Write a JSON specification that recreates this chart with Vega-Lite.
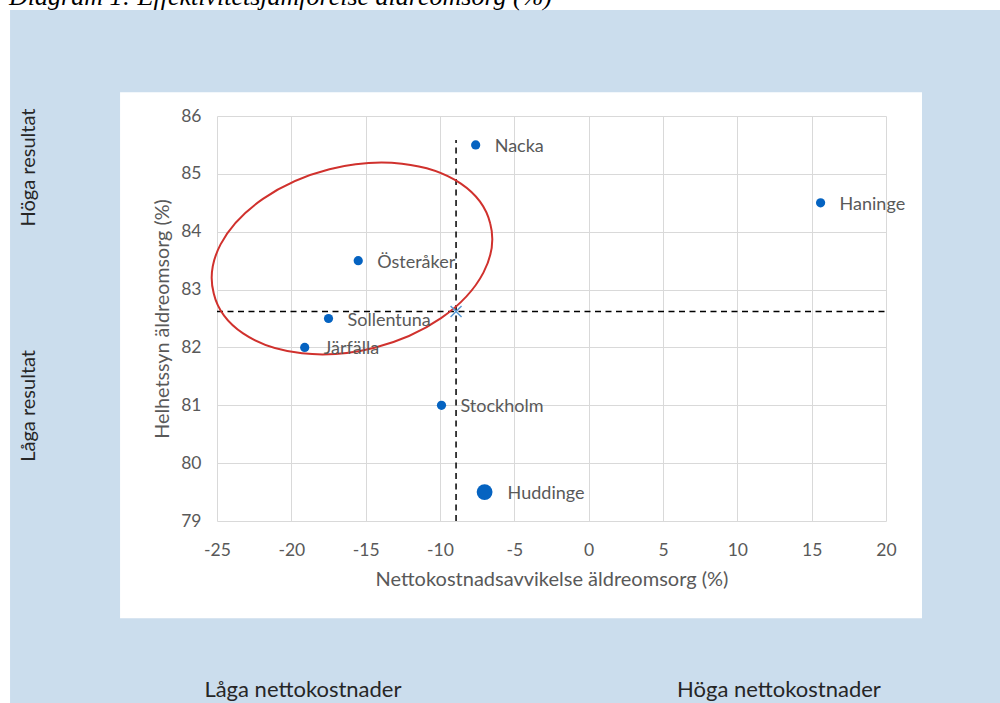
{
  "$schema": "https://vega.github.io/schema/vega-lite/v6.json",
  "width": 669,
  "height": 405,
  "autosize": {"type": "none"},
  "padding": {"left": 217, "top": 116, "right": 114, "bottom": 182},
  "background": "white",
  "config": {"view": {"stroke": null}, "font": "Lato"},
  "datasets": {
    "bands": [
      {"x": -38.92, "x2": -31.52, "y": 75.8, "y2": 87.83},
      {"x": 22.42, "x2": 28, "y": 75.8, "y2": 87.83},
      {"x": -31.6, "x2": 22.5, "y": 86.41, "y2": 87.83},
      {"x": -31.6, "x2": 22.5, "y": 75.8, "y2": 77.32}
    ],
    "title": [{"x": -38.99, "y": 87.92, "label": "Diagram 1: Effektivitetsjämförelse äldreomsorg (%)"}],
    "notesV": [
      {"x": -37.65, "y": 85.11, "label": "Höga resultat"},
      {"x": -37.65, "y": 80.99, "label": "Låga resultat"}
    ],
    "notesH": [
      {"x": -19.22, "y": 76.08, "label": "Låga nettokostnader"},
      {"x": 12.8, "y": 76.08, "label": "Höga nettokostnader"}
    ],
    "avg": [{"x": -8.92, "y": 82.62}],
    "ellipse": [{"x": -15.92, "y": 83.537}],
    "points": [
      {"kommun": "Nacka", "x": -7.6, "y": 85.5, "grupp": "jämförelse"},
      {"kommun": "Haninge", "x": 15.6, "y": 84.5, "grupp": "jämförelse"},
      {"kommun": "Österåker", "x": -15.5, "y": 83.5, "grupp": "jämförelse"},
      {"kommun": "Sollentuna", "x": -17.5, "y": 82.5, "grupp": "jämförelse"},
      {"kommun": "Järfälla", "x": -19.1, "y": 82.0, "grupp": "jämförelse"},
      {"kommun": "Stockholm", "x": -9.9, "y": 81.0, "grupp": "jämförelse"},
      {"kommun": "Huddinge", "x": -7.0, "y": 79.5, "grupp": "egen"}
    ]
  },
  "encoding": {
    "x": {
      "field": "x", "type": "quantitative",
      "scale": {"domain": [-25, 20], "nice": false, "zero": false},
      "axis": {
        "title": "Nettokostnadsavvikelse äldreomsorg (%)",
        "values": [-25, -20, -15, -10, -5, 0, 5, 10, 15, 20],
        "labelExpr": "replace(datum.label, '−', '-')",
        "grid": true, "gridColor": "#d9d9d9", "gridWidth": 1,
        "domain": false, "ticks": false, "tickSize": 0,
        "labelPadding": 20, "labelFontSize": 17.5, "labelColor": "#595959",
        "labelFlush": false, "labelOverlap": false,
        "titleFontSize": 20, "titleColor": "#595959", "titleFontWeight": "normal", "titlePadding": 11
      }
    },
    "y": {
      "field": "y", "type": "quantitative",
      "scale": {"domain": [79, 86], "nice": false, "zero": false},
      "axis": {
        "title": "Helhetssyn äldreomsorg (%)",
        "values": [79, 80, 81, 82, 83, 84, 85, 86],
        "grid": true, "gridColor": "#d9d9d9", "gridWidth": 1,
        "domain": false, "ticks": false, "tickSize": 0,
        "labelPadding": 16, "labelFontSize": 17.5, "labelColor": "#595959",
        "labelFlush": false, "labelOverlap": false,
        "titleFontSize": 19.7, "titleColor": "#595959", "titleFontWeight": "normal", "titlePadding": 8
      }
    }
  },
  "layer": [
    {
      "data": {"name": "bands"},
      "mark": {"type": "rect", "color": "#cbdded"},
      "encoding": {"x2": {"field": "x2"}, "y2": {"field": "y2"}}
    },
    {
      "data": {"name": "title"},
      "mark": {"type": "text", "align": "left", "baseline": "alphabetic", "font": "Liberation Serif", "fontStyle": "italic", "fontSize": 26, "color": "#000000"},
      "encoding": {"text": {"field": "label"}}
    },
    {
      "data": {"name": "notesV"},
      "mark": {"type": "text", "align": "center", "baseline": "middle", "angle": 270, "fontSize": 20, "color": "#262626"},
      "encoding": {"text": {"field": "label"}}
    },
    {
      "data": {"name": "notesH"},
      "mark": {"type": "text", "align": "center", "baseline": "middle", "fontSize": 22, "color": "#262626"},
      "encoding": {"text": {"field": "label"}}
    },
    {
      "data": {"name": "avg"},
      "mark": {"type": "rule", "color": "#000000", "strokeDash": [6, 4.5], "strokeWidth": 1.5},
      "encoding": {"y": {"datum": 79}, "y2": {"datum": 85.585}}
    },
    {
      "data": {"name": "avg"},
      "mark": {"type": "rule", "color": "#000000", "strokeDash": [6, 4.5], "strokeWidth": 1.5},
      "encoding": {"x": {"datum": -25}, "x2": {"datum": 20}}
    },
    {
      "data": {"name": "ellipse"},
      "mark": {"type": "point", "shape": "M-0.9694,0.2453A1,0.639,-14.2,1,1,0.9694,-0.2453A1,0.639,-14.2,1,1,-0.9694,0.2453Z", "size": 81339, "filled": false, "color": "#d0312d", "strokeWidth": 2, "opacity": 1}
    },
    {
      "data": {"name": "points"},
      "mark": {"type": "point", "shape": "circle", "filled": true, "color": "#0563c1", "opacity": 1},
      "encoding": {
        "size": {"field": "grupp", "type": "nominal", "scale": {"domain": ["jämförelse", "egen"], "range": [85, 250]}, "legend": null}
      }
    },
    {
      "data": {"name": "avg"},
      "mark": {"type": "point", "shape": "M-1,-1L1,1M-1,1L1,-1", "size": 121, "filled": false, "color": "#5b9bd5", "strokeWidth": 1.5, "opacity": 1}
    },
    {
      "data": {"name": "points"},
      "transform": [{"filter": "datum.grupp === 'jämförelse'"}],
      "mark": {"type": "text", "align": "left", "baseline": "middle", "dx": 19, "dy": 2, "fontSize": 18, "color": "#595959"},
      "encoding": {"text": {"field": "kommun"}}
    },
    {
      "data": {"name": "points"},
      "transform": [{"filter": "datum.grupp === 'egen'"}],
      "mark": {"type": "text", "align": "left", "baseline": "middle", "dx": 23, "dy": 2, "fontSize": 18, "color": "#595959"},
      "encoding": {"text": {"field": "kommun"}}
    }
  ]
}
